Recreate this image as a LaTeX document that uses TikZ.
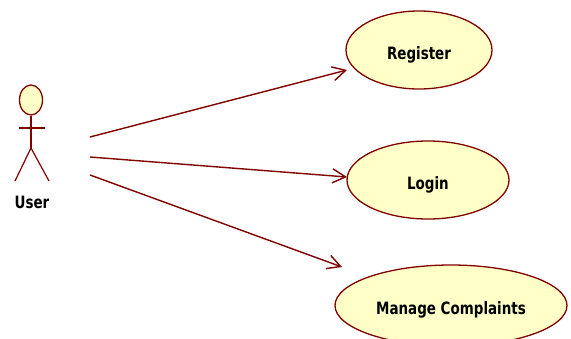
\documentclass[tikz,border=0pt]{standalone}
\usepackage{fontspec}
\setmainfont[FakeStretch=0.88]{DejaVu Sans Condensed}
\usetikzlibrary{arrows.meta,shapes.geometric}
\definecolor{umlline}{RGB}{128,0,0}
\definecolor{umlfill}{RGB}{255,255,200}
\tikzset{
    x=1pt, y=-1pt,
    usecase/.style = {draw=umlline,ellipse,fill=umlfill,line width=1.3pt,
                    inner sep=0pt, outer sep=0pt,
                    text height=18pt, text depth=0pt,
                    font=\fontsize{17}{20}\selectfont\bfseries},
    actorline/.style = {draw=umlline,line width=1.2pt},
    assoc/.style = {draw=umlline,line width=1.4pt,
                    -{Straight Barb[length=13pt,width=14pt,line width=1.4pt]}},
}
\begin{document}
\begin{tikzpicture}
    \useasboundingbox (0,0) rectangle (571,338);
    \clip (0,0) rectangle (571,338);

    % Use cases
    \node (register) [usecase,minimum width=146pt,minimum height=78pt] at (419,50) {Register};
    \node (login) [usecase,minimum width=162pt,minimum height=78pt] at (428,180) {Login};
    \node (manage) [usecase,minimum width=232pt,minimum height=81pt] at (451,305.5) {Manage Complaints};

    % Actor
    \node (head) [draw=umlline,ellipse,fill=umlfill,line width=1.3pt,
                  minimum width=23pt,minimum height=30pt,inner sep=0pt] at (31,100) {};
    \coordinate (hip) at (31,148);
    \coordinate (armL) at (19,128);
    \coordinate (armR) at (45,128);
    \coordinate (footL) at (15,181);
    \coordinate (footR) at (49,181);
    \draw[actorline] (head.south) -- (hip);
    \draw[actorline] (armL) -- (armR);
    \draw[actorline] (footL) -- (hip) -- (footR);
    \node (user) [font=\fontsize{17}{20}\selectfont\bfseries] at (32,202) {User};

    % Associations
    \coordinate (from1) at (90,137);
    \coordinate (from2) at (90,157);
    \coordinate (from3) at (90,175);
    \coordinate (to1) at (347,70);
    \coordinate (to2) at (347,177);
    \coordinate (to3) at (342,267);
    \draw[assoc] (from1) -- (to1);
    \draw[assoc] (from2) -- (to2);
    \draw[assoc] (from3) -- (to3);
\end{tikzpicture}
\end{document}
